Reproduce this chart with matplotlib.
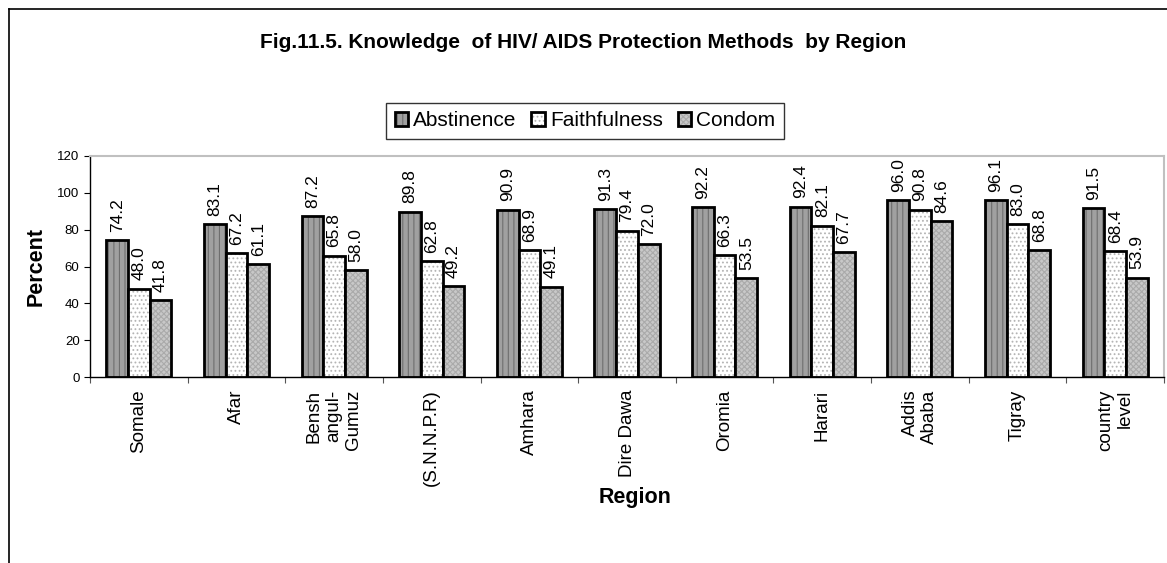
import numpy as np
import matplotlib
matplotlib.use('Agg')
import matplotlib.pyplot as plt
from matplotlib.lines import Line2D

plt.rcParams['font.family'] = ['Liberation Sans', 'DejaVu Sans']
plt.rcParams['hatch.linewidth'] = 0.8

# Dados por região
regioes = ['Somale', 'Afar', 'Bensh\nangul-\nGumuz', '(S.N.N.P.R)', 'Amhara',
           'Dire Dawa', 'Oromia', 'Harari', 'Addis\nAbaba', 'Tigray', 'country\nlevel']
abstinencia = [74.2, 83.1, 87.2, 89.8, 90.9, 91.3, 92.2, 92.4, 96.0, 96.1, 91.5]
fidelidade = [48.0, 67.2, 65.8, 62.8, 68.9, 79.4, 66.3, 82.1, 90.8, 83.0, 68.4]
preservativo = [41.8, 61.1, 58.0, 49.2, 49.1, 72.0, 53.5, 67.7, 84.6, 68.8, 53.9]
series = ['Abstinence', 'Faithfulness', 'Condom']
yticks = [0, 20, 40, 60, 80, 100, 120]

fig = plt.figure(figsize=(11.67, 5.63), dpi=100)
ax = fig.add_axes([90 / 1167, 1 - 377 / 563, 1074 / 1167, 221 / 563])

x = np.arange(len(regioes))
larg = 0.222
estilos = [('#a0a0a0', '#6e6e6e', '|||'),
           ('white', '#b4b4b4', '....'),
           ('#c8c8c8', '#aaaaaa', 'xxxxxx')]

handles = []
for i, (valores, (cor, cor_hatch, hatch)) in enumerate(zip([abstinencia, fidelidade, preservativo], estilos)):
    pos = x + (i - 1) * larg
    fundo = ax.bar(pos, valores, larg, color=cor, edgecolor=cor_hatch, hatch=hatch, linewidth=0)
    borda = ax.bar(pos, valores, larg, facecolor='none', edgecolor='black', linewidth=2)
    handles.append((fundo[0], borda[0]))
    for xp, v in zip(pos, valores):
        ax.annotate(f'{v:.1f}', (xp, v), xytext=(0, 6), textcoords='offset points',
                    rotation=90, ha='center', va='bottom', fontsize=12.5)

ax.set_xlim(-0.5, len(regioes) - 0.5)
ax.set_ylim(0, 120)
ax.set_yticks(yticks)
ax.tick_params(axis='y', labelsize=9.5, length=4, direction='out')

ax.set_xticks(np.arange(len(regioes) + 1) - 0.5)
ax.set_xticklabels([])
ax.tick_params(axis='x', which='major', length=4, color='#555555')
ax.set_xticks(x, minor=True)
ax.set_xticklabels(regioes, minor=True, rotation=90, fontsize=13.5, va='top', ha='center',
                   multialignment='right')
ax.tick_params(axis='x', which='minor', length=0, pad=9)

for lado in ['top', 'right']:
    ax.spines[lado].set_color('#c0c0c0')
    ax.spines[lado].set_linewidth(1.5)
ax.spines['left'].set_linewidth(1)
ax.spines['bottom'].set_linewidth(1)

fig.text(583 / 1167, 1 - 42 / 563, 'Fig.11.5. Knowledge  of HIV/ AIDS Protection Methods  by Region',
         ha='center', va='center', fontsize=15, fontweight='bold')
fig.text(36 / 1167, 1 - 266 / 563, 'Percent', rotation=90, ha='center', va='center',
         fontsize=15.5, fontweight='bold')
fig.text(635 / 1167, 1 - 497 / 563, 'Region', ha='center', va='center',
         fontsize=15.5, fontweight='bold')

leg = fig.legend(handles, series, loc='center', bbox_to_anchor=(585 / 1167, 1 - 121 / 563),
                 ncol=3, fontsize=15, frameon=True, fancybox=False, handlelength=0.65,
                 handleheight=0.65, handletextpad=0.25, columnspacing=0.7, borderpad=0.4,
                 borderaxespad=0)
leg.get_frame().set_edgecolor('black')
leg.get_frame().set_linewidth(1)

# moldura do gráfico
fx = 9 / 1167
fy = 1 - 9 / 563
fig.add_artist(Line2D([fx, fx], [0, fy], color='black', linewidth=1.2, transform=fig.transFigure))
fig.add_artist(Line2D([fx, 1], [fy, fy], color='black', linewidth=1.2, transform=fig.transFigure))

fig.savefig('out.png', dpi=100)
